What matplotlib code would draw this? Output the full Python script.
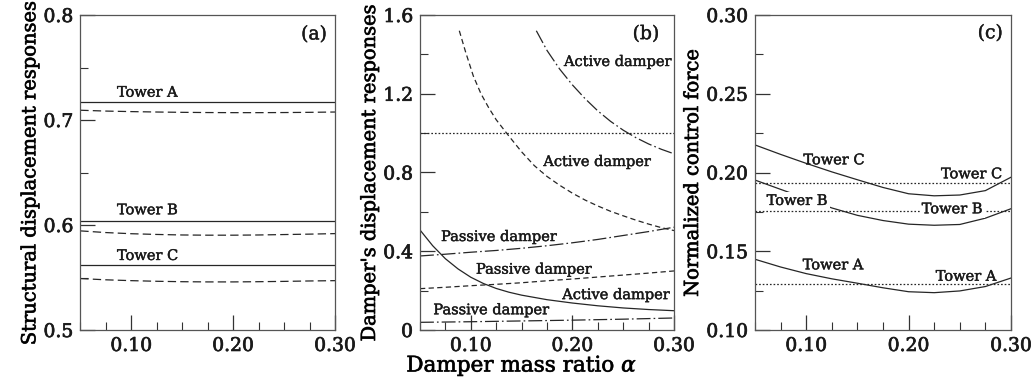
import matplotlib
matplotlib.use("Agg")
import matplotlib.pyplot as plt
import matplotlib.patheffects as pe
from matplotlib.ticker import MultipleLocator, FixedLocator, FuncFormatter

plt.rcParams['font.family'] = ['DejaVu Serif']
plt.rcParams['mathtext.fontset'] = 'dejavuserif'
plt.rcParams['lines.scale_dashes'] = False

# ---------------- data ----------------
alpha = [0.05, 0.075, 0.10, 0.125, 0.15, 0.175, 0.20, 0.225, 0.25, 0.275, 0.30]

# (a) structural displacement responses
a_towerA_active = [0.717] * 11
a_towerA_passive = [0.7093, 0.7085, 0.708, 0.7076, 0.7073, 0.7071, 0.707, 0.707, 0.7071, 0.7073, 0.7076]
a_towerB_active = [0.604] * 11
a_towerB_passive = [0.5944, 0.5928, 0.5917, 0.591, 0.5905, 0.5903, 0.5903, 0.5905, 0.5909, 0.5913, 0.5918]
a_towerC_active = [0.562] * 11
a_towerC_passive = [0.549, 0.5478, 0.547, 0.5464, 0.546, 0.5458, 0.5458, 0.546, 0.5463, 0.5467, 0.547]

# (b) damper's displacement responses
b_ref_level = [1.0] * 11
b_act1_alpha = [0.1645, 0.175, 0.1875, 0.20, 0.2125, 0.225, 0.2375, 0.25, 0.2625, 0.275, 0.2875, 0.30]
b_act1 = [1.52, 1.42, 1.325, 1.245, 1.175, 1.113, 1.06, 1.015, 0.977, 0.945, 0.918, 0.895]
b_act2_alpha = [0.0887, 0.095, 0.1025, 0.11, 0.1175, 0.125, 0.1375, 0.15, 0.1625, 0.175, 0.1875,
                0.20, 0.2125, 0.225, 0.2375, 0.25, 0.2625, 0.275, 0.2875, 0.30]
b_act2 = [1.52, 1.41, 1.29, 1.20, 1.13, 1.068, 0.985, 0.905, 0.835, 0.78, 0.735,
          0.695, 0.66, 0.63, 0.603, 0.58, 0.558, 0.538, 0.52, 0.505]
b_act3_alpha = [0.05, 0.0625, 0.075, 0.0875, 0.10, 0.1125, 0.125, 0.1375, 0.15, 0.175, 0.20, 0.225,
                0.25, 0.275, 0.30]
b_act3 = [0.508, 0.428, 0.362, 0.31, 0.268, 0.236, 0.211, 0.192, 0.177, 0.154, 0.137, 0.123,
          0.112, 0.104, 0.098]
b_pas1 = [0.376, 0.385, 0.395, 0.404, 0.415, 0.428, 0.443, 0.46, 0.48, 0.50, 0.522]
b_pas2 = [0.21, 0.217, 0.225, 0.232, 0.24, 0.25, 0.259, 0.269, 0.279, 0.289, 0.30]
b_pas3 = [0.039, 0.0405, 0.042, 0.044, 0.046, 0.048, 0.050, 0.0525, 0.055, 0.058, 0.061]

# (c) normalized control force
c_towerC_active = [0.2175, 0.2115, 0.2058, 0.2004, 0.1954, 0.1905, 0.1865, 0.1852, 0.1857, 0.1885, 0.197]
c_towerB_active = [0.1952, 0.1893, 0.1835, 0.1775, 0.1728, 0.1695, 0.1672, 0.1665, 0.1670, 0.171, 0.177]
c_towerA_active = [0.1449, 0.1400, 0.1358, 0.1325, 0.1297, 0.1268, 0.1243, 0.1237, 0.1248, 0.1276, 0.1330]
c_towerC_passive = [0.1935] * 11
c_towerB_passive = [0.1753] * 11
c_towerA_passive = [0.1294] * 11

xticks = [0.10, 0.20, 0.30]

# ---------------- styles ----------------
LC = '#262626'
LW = 0.9
solid = dict(color=LC, lw=LW, ls='-')
dash_a = dict(color=LC, lw=LW, ls=(0, (6, 3)))
dash_b = dict(color=LC, lw=LW, ls=(0, (3.8, 2.4)))
dashdot = dict(color=LC, lw=LW, ls=(0, (10, 2.2, 1.2, 2.2)))
dotted = dict(color=LC, lw=LW, ls=(0, (1.2, 1.4)))

TXT = '#1a1a1a'
HEAVY = [pe.withStroke(linewidth=0.5, foreground=TXT)]
TICK_FS = 13.5
LAB_FS = 14
XLAB_FS = 15.5
ANN_FS = 10.5
PANEL_FS = 13.5

fig = plt.figure(figsize=(10.33, 3.87), dpi=100)
W, H = 1033, 387
def add_ax(l, r):
    return fig.add_axes([l / W, 1 - 330 / H, (r - l) / W, 315 / H])

axa = add_ax(80.3, 335)
axb = add_ax(420, 674)
axc = add_ax(755, 1011)

for ax in (axa, axb, axc):
    ax.set_xlim(0.05, 0.30)
    ax.xaxis.set_major_locator(FixedLocator(xticks))
    ax.xaxis.set_minor_locator(MultipleLocator(0.025))
    ax.xaxis.set_major_formatter(FuncFormatter(lambda v, p: f"{v:.2f}"))
    ax.tick_params(which='both', direction='in', top=False, right=False, colors='#333333',
                   labelcolor=TXT, labelsize=TICK_FS)
    ax.tick_params(which='major', length=11, width=0.9, pad=5)
    ax.tick_params(which='minor', length=5.5, width=0.8)
    for s in ax.spines.values():
        s.set_color('#555555')
        s.set_linewidth(0.9)

def lab(ax, x, y, s, box=False, **kw):
    kw.setdefault('ha', 'left')
    kw.setdefault('va', 'baseline')
    t = ax.text(x, y, s, fontsize=kw.pop('fs', ANN_FS), color=TXT, **kw)
    t.set_path_effects([pe.withStroke(linewidth=0.3, foreground=TXT)])
    if box:
        t.set_bbox(dict(facecolor='white', edgecolor='none', pad=1.5))
    return t

# ---- (a) ----
axa.set_ylim(0.5, 0.8)
axa.yaxis.set_major_locator(MultipleLocator(0.1))
axa.yaxis.set_minor_locator(MultipleLocator(0.05))
axa.yaxis.set_major_formatter(FuncFormatter(lambda v, p: f"{v:.1f}"))
axa.plot(alpha, a_towerA_active, **solid)
axa.plot(alpha, a_towerA_passive, **dash_a)
axa.plot(alpha, a_towerB_active, **solid)
axa.plot(alpha, a_towerB_passive, **dash_a)
axa.plot(alpha, a_towerC_active, **solid)
axa.plot(alpha, a_towerC_passive, **dash_a)
lab(axa, 0.086, 0.7222, 'Tower A')
lab(axa, 0.086, 0.6102, 'Tower B')
lab(axa, 0.086, 0.5667, 'Tower C')
lab(axa, 0.292, 0.7815, '(a)', ha='right', va='center', fs=PANEL_FS)
axa.set_ylabel('Structural displacement responses', fontsize=LAB_FS, labelpad=3)

# ---- (b) ----
axb.set_ylim(0, 1.6)
axb.yaxis.set_major_locator(MultipleLocator(0.4))
axb.yaxis.set_minor_locator(MultipleLocator(0.2))
axb.yaxis.set_major_formatter(FuncFormatter(lambda v, p: '0' if abs(v) < 1e-9 else f"{v:.1f}"))
axb.plot(alpha, b_ref_level, **dotted)
axb.plot(b_act1_alpha, b_act1, **dashdot)
axb.plot(b_act2_alpha, b_act2, **dash_b)
axb.plot(b_act3_alpha, b_act3, **solid)
axb.plot(alpha, b_pas1, **dashdot)
axb.plot(alpha, b_pas2, **dash_b)
axb.plot(alpha, b_pas3, **dashdot)
lab(axb, 0.1917, 1.341, 'Active damper')
lab(axb, 0.1714, 0.833, 'Active damper', box=True)
lab(axb, 0.0707, 0.452, 'Passive damper')
lab(axb, 0.1051, 0.286, 'Passive damper')
lab(axb, 0.190, 0.157, 'Active damper')
lab(axb, 0.0631, 0.080, 'Passive damper')
lab(axb, 0.2856, 1.503, '(b)', ha='right', va='center', fs=PANEL_FS)
axb.set_ylabel("Damper's displacement responses", fontsize=LAB_FS, labelpad=3)
axb.set_xlabel(r'Damper mass ratio $\alpha$', fontsize=XLAB_FS)
axb.xaxis.label.set_verticalalignment('baseline')
axb.xaxis.set_label_coords(0.40, -0.132)

# ---- (c) ----
axc.set_ylim(0.10, 0.30)
axc.yaxis.set_major_locator(MultipleLocator(0.05))
axc.yaxis.set_minor_locator(MultipleLocator(0.025))
axc.yaxis.set_major_formatter(FuncFormatter(lambda v, p: f"{v:.2f}"))
axc.plot(alpha, c_towerC_active, **solid)
axc.plot(alpha, c_towerB_active, **solid)
axc.plot(alpha, c_towerA_active, **solid)
axc.plot(alpha, c_towerC_passive, **dotted)
axc.plot(alpha, c_towerB_passive, **dotted)
axc.plot(alpha, c_towerA_passive, **dotted)
lab(axc, 0.0972, 0.2052, 'Tower C')
lab(axc, 0.2316, 0.1963, 'Tower C')
lab(axc, 0.0614, 0.1794, 'Tower B', box=True)
lab(axc, 0.2128, 0.1741, 'Tower B', box=True)
lab(axc, 0.0966, 0.1385, 'Tower A')
lab(axc, 0.2265, 0.1313, 'Tower A')
lab(axc, 0.292, 0.2884, '(c)', ha='right', va='center', fs=PANEL_FS)
axc.set_ylabel('Normalized control force', fontsize=LAB_FS, labelpad=3)

for ax in (axa, axb, axc):
    for t in ax.get_xticklabels() + ax.get_yticklabels():
        t.set_path_effects(HEAVY)
    ax.yaxis.label.set_path_effects(HEAVY)
    ax.xaxis.label.set_path_effects(HEAVY)

fig.savefig('out.png', dpi=100)
